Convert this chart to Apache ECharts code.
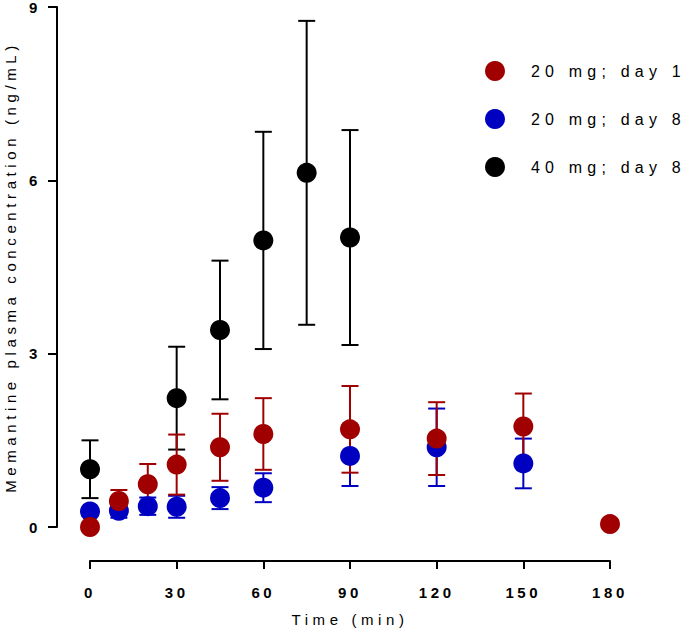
<!DOCTYPE html>
<html><head><meta charset="utf-8">
<script src="https://cdn.jsdelivr.net/npm/echarts@6/dist/echarts.min.js"></script>
<style>
html,body{margin:0;padding:0;background:#fff}
#c{width:686px;height:634px}
#c text{letter-spacing:4.6px}
#c text[style*="bold"]{letter-spacing:3.6px}
#c text[style*="16px"]{letter-spacing:5.2px}
</style></head><body><div id="c"></div>
<script>
const seriesNames = ['20 mg; day 1', '20 mg; day 8', '40 mg; day 8'];
const xTicks = [0, 30, 60, 90, 120, 150, 180];
const yTicks = [0, 3, 6, 9];

const time20d1 = [0, 10, 20, 30, 45, 60, 90, 120, 150, 180];
const mean20d1 = [0.00, 0.45, 0.74, 1.08, 1.38, 1.61, 1.69, 1.53, 1.74, 0.05];
const sd20d1   = [0, 0.19, 0.35, 0.52, 0.58, 0.62, 0.75, 0.63, 0.57, 0];

const time20d8 = [0, 10, 20, 30, 45, 60, 90, 120, 150];
const mean20d8 = [0.27, 0.28, 0.36, 0.35, 0.50, 0.68, 1.23, 1.38, 1.10];
const sd20d8   = [0, 0.12, 0.15, 0.19, 0.19, 0.25, 0.52, 0.67, 0.43];

const time40d8 = [0, 30, 45, 60, 75, 90];
const mean40d8 = [1.00, 2.23, 3.41, 4.96, 6.13, 5.01];
const sd40d8   = [0.50, 0.89, 1.20, 1.88, 2.63, 1.86];

const colors = ['#a00000', '#0000c0', '#000000'];
const FONT = 'Liberation Sans';

function pts(t, m) { return t.map((x, i) => [x, m[i]]); }
function errs(t, m, s) {
  const out = [];
  t.forEach((x, i) => { if (s[i] > 0) out.push([x, m[i] - s[i], m[i] + s[i]]); });
  return out;
}
function errRender(color, width) {
  return function (params, api) {
    const x = api.value(0), lo = api.value(1), hi = api.value(2);
    const a = api.coord([x, lo]), b = api.coord([x, hi]);
    const h = 8.5;
    const st = { stroke: color, lineWidth: width };
    return { type: 'group', children: [
      { type: 'line', shape: { x1: a[0], y1: a[1], x2: b[0], y2: b[1] }, style: st },
      { type: 'line', shape: { x1: b[0] - h, y1: b[1], x2: b[0] + h, y2: b[1] }, style: st },
      { type: 'line', shape: { x1: a[0] - h, y1: a[1], x2: a[0] + h, y2: a[1] }, style: st }
    ]};
  };
}
function errSeries(name, t, m, s, color, width) {
  return { type: 'custom', name: name + ' SD', renderItem: errRender(color, width),
    data: errs(t, m, s), encode: { x: 0, y: [1, 2] }, clip: false, silent: true };
}
function ptSeries(name, t, m, color) {
  return { type: 'scatter', name: name, data: pts(t, m), symbol: 'circle', symbolSize: 20,
    itemStyle: { color: color, opacity: 1 }, clip: false };
}

const chart = echarts.init(document.getElementById('c'), null, { renderer: 'svg' });
chart.setOption({
  animation: false,
  backgroundColor: '#fff',
  grid: { left: 90, right: 76, top: 7, bottom: 107, containLabel: false, outerBoundsMode: 'none' },
  legend: {
    orient: 'vertical', left: 480, top: 56, itemWidth: 20, itemHeight: 20, itemGap: 28,
    icon: 'circle', data: seriesNames, selectedMode: false,
    textStyle: { fontSize: 16, fontFamily: FONT, color: '#000', padding: [0, 0, 0, 21] }
  },
  xAxis: {
    type: 'value', min: xTicks[0], max: xTicks[xTicks.length - 1], interval: 30, offset: 34,
    axisLine: { show: true, onZero: false, lineStyle: { color: '#000', width: 2 } },
    axisTick: { show: true, length: 8, lineStyle: { color: '#000', width: 2 } },
    axisLabel: { margin: 24, color: '#000', fontSize: 15, fontWeight: 'bold', fontFamily: FONT },
    splitLine: { show: false },
    name: 'Time (min)', nameLocation: 'middle', nameGap: 51,
    nameTextStyle: { fontSize: 15, fontFamily: FONT, color: '#000' }
  },
  yAxis: {
    type: 'value', min: yTicks[0], max: yTicks[yTicks.length - 1], interval: 3, offset: 33,
    axisLine: { show: true, onZero: false, lineStyle: { color: '#000', width: 2 } },
    axisTick: { show: true, length: 9, lineStyle: { color: '#000', width: 2 } },
    axisLabel: { margin: 16, lineHeight: 14, color: '#000', fontSize: 15, fontWeight: 'bold', fontFamily: FONT },
    splitLine: { show: false },
    name: 'Memantine plasma concentration (ng/mL)', nameLocation: 'middle', nameGap: 39,
    nameTextStyle: { fontSize: 15, fontFamily: FONT, color: '#000' }
  },
  series: [
    errSeries(seriesNames[2], time40d8, mean40d8, sd40d8, colors[2], 2),
    ptSeries(seriesNames[2], time40d8, mean40d8, colors[2]),
    errSeries(seriesNames[1], time20d8, mean20d8, sd20d8, colors[1], 2),
    ptSeries(seriesNames[1], time20d8, mean20d8, colors[1]),
    errSeries(seriesNames[0], time20d1, mean20d1, sd20d1, colors[0], 2),
    ptSeries(seriesNames[0], time20d1, mean20d1, colors[0])
  ]
});
</script></body></html>
